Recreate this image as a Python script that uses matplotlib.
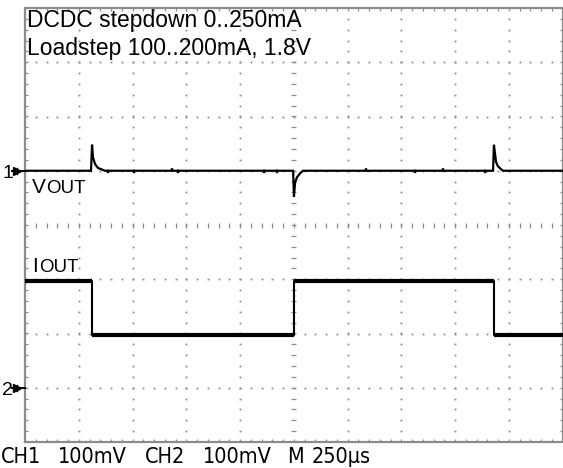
import numpy as np
import matplotlib
matplotlib.use("Agg")
import matplotlib.pyplot as plt
from matplotlib.collections import LineCollection

# scope settings
us_per_div = 250
ch1_mv_per_div = 100
ch2_ma_per_div = 100
ch1_ref_div = 1.0
ch2_ref_div = -3.0

title_lines = ["DCDC stepdown 0..250mA", "Loadstep 100..200mA, 1.8V"]
status_labels = ["CH1", "100mV", "CH2", "100mV", "M", "250µs"]

# output voltage deviation (time in us, deviation in mV)
vout_t = [0, 307, 312, 316, 326, 340, 353, 372,
          384, 386, 388, 505, 507, 509, 682, 684, 686, 710, 712, 714,
          1110, 1112, 1114, 1170, 1172, 1174,
          1247, 1251, 1256, 1265, 1279, 1293,
          1584, 1586, 1588, 1812, 1814, 1816, 1942, 1944, 1946,
          2138, 2140, 2142,
          2177, 2181, 2191, 2200, 2214, 2223, 2500]
vout_mv = [0, 0, 48, 25, 12, 5, 3, 0,
           0, -4, 0, 0, -4, 0, 0, 4, 0, 0, -4, 0,
           0, -4, 0, 0, -4, 0,
           0, -48, -22, -12, -5, 0,
           0, 4, 0, 0, -4, 0, 0, 4, 0,
           0, -4, 0,
           0, 48, 16, 8, 3, 0, 0]

# load current steps (edges in us, level in mA)
iout_edges = [0, 312, 1251, 2181, 2500]
iout_ma = [197, 97, 197, 97]

W, H = 563, 468
fig = plt.figure(figsize=(W / 100, H / 100), dpi=100)
fig.patch.set_facecolor("white")
ax = fig.add_axes([25 / W, 26 / H, 537.5 / W, 434 / H])
ax.set_xlim(0, 10)
ax.set_ylim(-4, 4)
ax.axis("off")

gray = "#8c8c8c"
dx = 10 / 537.5   # one pixel in x
dy = 8 / 434      # one pixel in y

# dotted graticule
minor = np.arange(0, 10.01, 0.2)
minor_y = np.arange(-4, 4.01, 0.2)
for gy in range(-3, 4):
    if gy == 0:
        continue
    ax.plot(minor, np.full_like(minor, gy), ls="none", marker="s",
            ms=1.3, mew=0, color=gray)
for gx in range(1, 10):
    if gx == 5:
        continue
    ax.plot(np.full_like(minor_y, gx), minor_y, ls="none", marker="s",
            ms=1.3, mew=0, color=gray)

segs = []
# centre cross ticks
for x in minor:
    segs.append([(x, -2.5 * dy), (x, 2.5 * dy)])
for y in minor_y:
    segs.append([(5 - 2.5 * dx, y), (5 + 2.5 * dx, y)])
# border ticks
for x in minor:
    segs.append([(x, 4), (x, 4 - 3 * dy)])
    segs.append([(x, -4), (x, -4 + 3 * dy)])
for y in minor_y:
    segs.append([(0, y), (3 * dx, y)])
    segs.append([(10, y), (10 - 3 * dx, y)])
ax.add_collection(LineCollection(segs, colors=gray, linewidths=0.9))
ax.plot([0, 10, 10, 0, 0], [-4, -4, 4, 4, -4], color=gray, lw=1.6,
        clip_on=False)

# CH1: output voltage
vt = np.array(vout_t) / us_per_div
vy = np.array(vout_mv) / ch1_mv_per_div + ch1_ref_div
ax.plot(vt, vy, color="black", lw=1.6, solid_joinstyle="miter")

# CH2: load current
it = np.array(iout_edges) / us_per_div
iy = np.array(iout_ma) / ch2_ma_per_div + ch2_ref_div
ax.step(it, np.append(iy, iy[-1]), where="post", color="black", lw=1.5)
ax.hlines(iy, it[:-1], it[1:], color="black", lw=3.0)

# channel markers
for ref, name in [(ch1_ref_div, "1"), (ch2_ref_div, "2")]:
    py = 225 - ref * 54.25
    fig.text(2 / W, 1 - (py + 7) / H, name, fontsize=14,
             family="Liberation Sans")
    ax.plot([-0.15], [ref], marker=">", ms=5.5, color="black", clip_on=False)
    ax.plot([-0.24, 0], [ref, ref], color="black", lw=1.4, clip_on=False)
    ax.plot([-0.15, -0.15], [ref - 3 * dy, ref + 3 * dy], color="black",
            lw=1.0, clip_on=False)

# text
def px_text(x, y, s, **kw):
    fig.text(x / W, 1 - y / H, s, va="baseline", ha="left", **kw)

px_text(27, 27, title_lines[0], fontsize=16.5, family="Liberation Sans")
px_text(27, 55, title_lines[1], fontsize=16.5, family="Liberation Sans")

px_text(32, 193, "V", fontsize=15, family="Liberation Sans")
px_text(46, 193, "OUT", fontsize=13.5, family="Liberation Sans")
px_text(32, 272, "I", fontsize=15, family="Liberation Sans")
px_text(39, 272, "OUT", fontsize=13.5, family="Liberation Sans")

status_x = [1, 58, 145, 203, 287, 312]
cond = dict(fontsize=15.5, family=["Liberation Sans Narrow", "DejaVu Sans"],
            stretch="condensed")
for x, s in zip(status_x, status_labels):
    px_text(x, 463, s, **cond)

fig.savefig("out.png", dpi=100)
